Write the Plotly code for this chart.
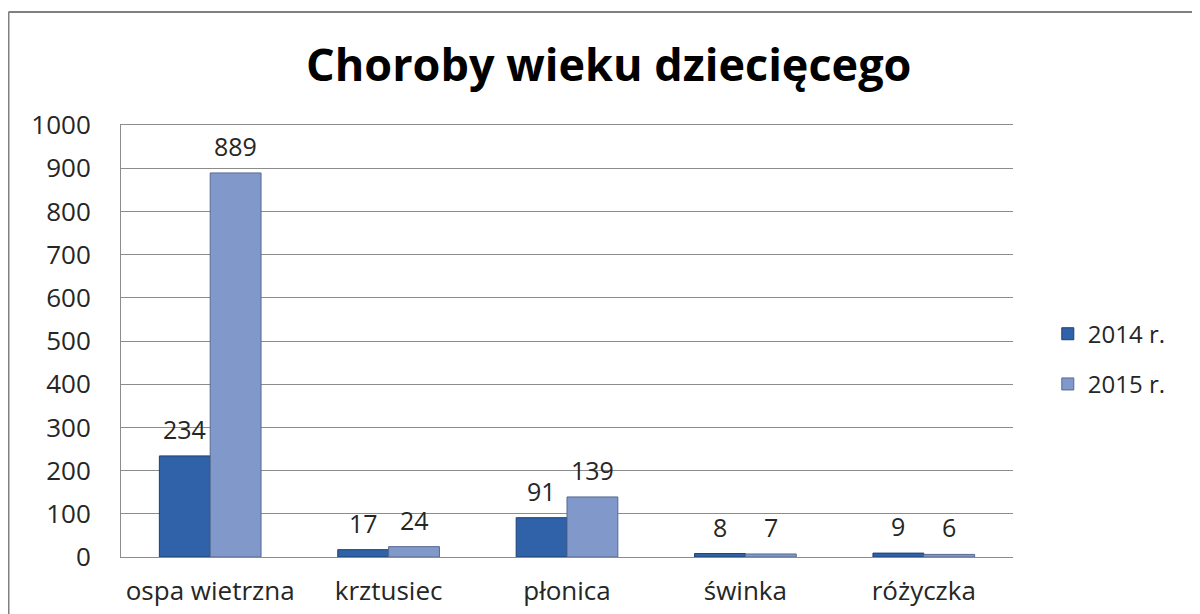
import plotly.graph_objects as go

categories = ["ospa wietrzna", "krztusiec", "płonica", "świnka", "różyczka"]
series_names = ["2014 r.", "2015 r."]
values_2014 = [234, 17, 91, 8, 9]
values_2015 = [889, 24, 139, 7, 6]
y_ticks = [0, 100, 200, 300, 400, 500, 600, 700, 800, 900, 1000]

FONT = "Open Sans"
TXT = "#262626"

fig = go.Figure()
fig.add_trace(go.Bar(
    x=categories, y=values_2014, name=series_names[0], legendgroup="a",
    marker=dict(color="#2F62A8", line=dict(color="#1E3F70", width=1)),
))
fig.add_trace(go.Bar(
    x=categories, y=values_2015, name=series_names[1], legendgroup="b",
    marker=dict(color="#8199CA", line=dict(color="#56698F", width=1)),
))

# data labels above bars
annotations = []
for vals, shift in ((values_2014, -25.5), (values_2015, 25.5)):
    for c, v in zip(categories, vals):
        annotations.append(dict(
            x=c, y=v, xref="x", yref="y", text=str(v), showarrow=False,
            xshift=shift, yshift=27, font=dict(family=FONT, size=25, color=TXT),
        ))

fig.update_layout(
    width=1192, height=606,
    margin=dict(l=113, r=187, t=117, b=57, autoexpand=False),
    paper_bgcolor="white", plot_bgcolor="white",
    barmode="group", bargap=0.43, bargroupgap=0,
    title=dict(text="<b>Choroby wieku dziecięcego</b>", x=0.504, xanchor="center",
               y=0.906, yanchor="middle",
               font=dict(family=FONT, size=45, color="#000000")),
    font=dict(family=FONT, size=24, color=TXT),
    legend=dict(x=1.039, xanchor="left", y=0.458, yanchor="middle",
                font=dict(family=FONT, size=24, color=TXT),
                traceorder="grouped", tracegroupgap=16,
                bgcolor="rgba(0,0,0,0)"),
    xaxis=dict(showline=True, mirror=True, linecolor="#8C8C8C", linewidth=1,
               tickfont=dict(family=FONT, size=26, color=TXT), automargin=False,
               ticks="", showgrid=False, ticklabelstandoff=11),
    yaxis=dict(range=[0, 1000], tickvals=y_ticks, showline=True,
               linecolor="#8C8C8C", linewidth=1, automargin=False,
               showgrid=True, gridcolor="#8C8C8C", gridwidth=1,
               tickfont=dict(family=FONT, size=26, color=TXT),
               ticks="", ticklabelstandoff=24, zeroline=False),
    annotations=annotations,
    shapes=[
        dict(type="line", xref="paper", yref="paper", x0=-0.1261, x1=1.25,
             y0=1.2616, y1=1.2616, line=dict(color="#808080", width=2)),
        dict(type="line", xref="paper", yref="paper", x0=-0.1261, x1=-0.1261,
             y0=1.2616, y1=-0.2, line=dict(color="#808080", width=2)),
    ],
)

fig.write_html("out.html")
